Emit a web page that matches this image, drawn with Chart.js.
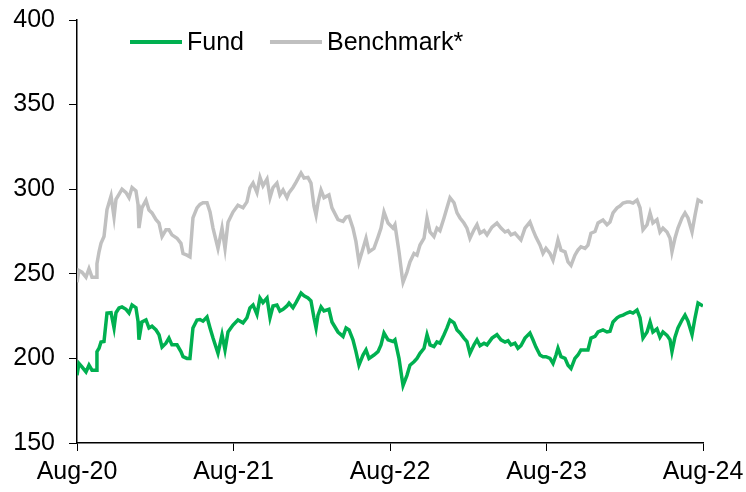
<!DOCTYPE html>
<html>
<head>
<meta charset="utf-8">
<script src="https://cdn.jsdelivr.net/npm/chart.js@4"></script>
<style>
  body { margin: 0; background: #fff; }
</style>
</head>
<body>
<canvas id="perfChart" width="746" height="492"></canvas>
<script>
// months since Aug-20 for each reading
const months = [
  0, 0.15, 0.38, 0.69, 0.92, 1.15, 1.46, 1.53, 1.69, 1.84, 2.07, 2.30, 2.61, 2.84, 2.99, 3.22, 3.45, 3.76, 3.99, 4.22,
  4.52, 4.68, 4.75, 4.98, 5.29, 5.52, 5.75, 6.06, 6.29, 6.52, 6.82, 7.05, 7.28, 7.67, 7.97,
  8.13, 8.43, 8.66, 8.89, 9.20, 9.43, 9.66, 9.97, 10.20, 10.43, 10.81, 11.12, 11.35, 11.58, 11.96, 12.34, 12.73, 13.03, 13.26, 13.50,
  13.80, 14.03, 14.26, 14.57, 14.80, 15.03, 15.33, 15.56, 15.80, 16.10,
  16.26, 16.56, 16.79, 17.18, 17.41, 17.71, 17.94, 18.17, 18.33, 18.48, 18.71, 18.94, 19.32, 19.55, 20.01, 20.40, 20.63, 20.86, 21.16, 21.39,
  21.62, 21.93, 22.16, 22.39, 22.77, 23.08, 23.31, 23.54, 23.85, 24.23,
  24.38, 24.69, 24.92, 25.00, 25.30, 25.53, 25.84, 26.07, 26.30, 26.61, 26.84, 27.07, 27.37, 27.60, 27.83, 28.14, 28.37, 28.60, 28.91, 29.14,
  29.37, 29.67, 29.90, 30.13, 30.44, 30.67, 30.90, 31.21, 31.44, 31.82, 32.20,
  32.51, 32.82, 33.05, 33.28, 33.58, 33.81, 34.04, 34.35, 34.73, 34.96, 35.19, 35.50, 35.73, 35.96, 36.27, 36.50, 36.73, 36.88, 37.11, 37.42,
  37.65, 37.88, 38.18, 38.41, 38.64, 38.95, 39.18, 39.41, 39.72, 39.95, 40.33,
  40.64, 40.87, 41.10, 41.41, 41.63, 41.87, 42.17, 42.40, 42.63, 42.94, 43.17, 43.40, 43.71, 43.94, 44.16, 44.47, 44.70, 44.93, 45.24, 45.47,
  45.62, 45.85, 46.08, 46.39, 46.62, 46.85, 47.16, 47.39, 47.62, 48
];

const fund = [
  190, 197, 195, 192, 196, 193, 193, 204, 206, 209.7, 210, 226.8, 227, 218, 227, 229.8, 230.4, 229, 226.8, 231.6,
  230, 222, 211, 221.5, 222.7, 218, 219, 216.8, 214, 206.7, 209, 212, 208, 208, 204,
  201, 200, 200, 218, 222.7, 223, 222, 224.5, 218, 212, 203, 214, 205, 215.6, 219.7, 222.7, 221, 224, 229.8, 231.6,
  226, 235.7, 233, 235.7, 224, 231, 231.6, 228, 229, 231,
  232.7, 230, 233, 238.6, 237, 235.7, 234, 224, 218, 225.6, 230.4, 228, 229, 221.5, 215.6, 213, 218, 216.8, 211, 204,
  196, 202, 205, 200, 202, 204, 208, 215, 211, 210,
  211, 200, 188, 184, 190, 196, 198, 200, 203, 206, 214, 208, 207, 209.7, 209, 214, 218, 222.7, 221, 216.8,
  215, 212, 210, 203, 208, 211, 207.5, 209, 208, 212, 214,
  211, 209.7, 210.5, 208, 209, 206, 207.5, 212, 215, 211, 206.7, 202, 201, 201, 200, 197, 202, 206, 201, 200,
  196, 194, 200, 202, 205, 205, 205, 212, 213, 215.6, 216.8,
  215.6, 216, 221.5, 224, 225, 225.6, 226.8, 227.5, 226.8, 228.6, 224, 212, 215.6, 221.5, 215.6, 217.5, 212.6, 215.6, 213.6, 211,
  204, 212.6, 218, 222.7, 225.6, 222, 214, 224, 232.7, 231
];

const benchmark = [
  245, 252, 251, 248, 253, 248, 248, 256, 263, 268, 272, 288, 296, 283.5, 294, 297, 300, 298, 295, 301,
  299, 291, 277, 289, 293.5, 287.7, 286, 282, 280, 272, 276, 276, 273, 271, 268,
  262, 261, 260, 283, 289, 291, 292, 292, 286.5, 277, 265, 277, 265, 280.5, 286.5, 290.5, 289, 292.5, 300.7, 303.6,
  298, 307, 302, 306, 295, 301, 303.6, 296.6, 299.5, 295,
  298, 301, 304, 309.6, 306.6, 307, 303.6, 290, 284.7, 292, 299.5, 295, 296.6, 289, 282, 281, 283.5, 284, 277, 269,
  257, 265, 271, 263, 265, 271.7, 277, 286.5, 280, 277,
  279, 263, 249, 245, 251, 257, 262, 261, 267, 271, 283, 274.7, 272, 277, 275.5, 283, 289, 295, 292, 286,
  283, 280, 277, 271, 276, 279, 274, 275.5, 273, 277.6, 280,
  277, 274.7, 275.5, 273, 274, 272, 270, 277, 280.6, 276, 271.7, 267, 262, 265, 262, 258, 265, 270, 264, 263,
  257, 255, 261, 264, 266, 265, 267, 274, 275, 280, 281.8,
  279, 280.6, 286, 289, 290, 291.8, 292.4, 292.4, 291.8, 293.6, 289, 276, 279, 286, 280, 282, 274.7, 277, 274.7, 271,
  263, 271, 277, 283, 286, 283, 274.7, 284.7, 293.6, 292
];

const xLabels = ['Aug-20', 'Aug-21', 'Aug-22', 'Aug-23', 'Aug-24'];
const seriesNames = ['Fund', 'Benchmark*'];

const FONT = '"Liberation Sans", Arial, sans-serif';

// legend drawn inside the plot, top left
const insideLegend = {
  id: 'insideLegend',
  afterDraw(chart) {
    const ctx = chart.ctx;
    const area = chart.chartArea;
    let x = area.left + 53;
    const y = area.top + 22;
    ctx.save();
    ctx.font = '25px ' + FONT;
    ctx.textBaseline = 'middle';
    ctx.textAlign = 'left';
    chart.data.datasets.forEach(ds => {
      ctx.strokeStyle = ds.borderColor;
      ctx.lineWidth = 4;
      ctx.beginPath();
      ctx.moveTo(x, y);
      ctx.lineTo(x + 52, y);
      ctx.stroke();
      x += 57;
      ctx.fillStyle = '#000';
      ctx.fillText(ds.label, x, y + 1);
      x += ctx.measureText(ds.label).width + 26;
    });
    ctx.restore();
  }
};

// fixed axis sizes, no automatic label overflow padding
function fixBox(size) {
  return s => {
    if (s.isHorizontal()) s.height = size; else s.width = size;
    s.paddingTop = 0;
    s.paddingBottom = 0;
    s.paddingLeft = 0;
    s.paddingRight = 0;
  };
}

new Chart(document.getElementById('perfChart'), {
  type: 'line',
  data: {
    datasets: [{
      label: seriesNames[0],
      data: months.map((m, i) => ({ x: m, y: fund[i] })),
      borderColor: '#00B050',
      borderWidth: 3.5,
      pointRadius: 0,
      tension: 0
    }, {
      label: seriesNames[1],
      data: months.map((m, i) => ({ x: m, y: benchmark[i] })),
      borderColor: '#C0C0C0',
      borderWidth: 3.5,
      pointRadius: 0,
      tension: 0
    }]
  },
  options: {
    responsive: false,
    animation: false,
    layout: { padding: { top: 20, right: 43, left: 0, bottom: 0 } },
    plugins: {
      legend: { display: false },
      tooltip: { enabled: false }
    },
    scales: {
      x: {
        type: 'linear',
        min: 0,
        max: 48,
        afterFit: fixBox(49),
        ticks: {
          stepSize: 12,
          color: '#000',
          padding: 6,
          maxRotation: 0,
          font: { family: FONT, size: 25 },
          callback: v => xLabels[v / 12]
        },
        grid: { drawOnChartArea: false, color: '#000', tickLength: 8 },
        border: { color: '#000', width: 1.5 }
      },
      y: {
        min: 150,
        max: 400,
        afterFit: fixBox(77),
        ticks: {
          stepSize: 50,
          color: '#000',
          padding: 14,
          font: { family: FONT, size: 25 }
        },
        grid: { drawOnChartArea: false, color: '#000', tickLength: 8 },
        border: { color: '#000', width: 1.5 }
      }
    }
  },
  plugins: [insideLegend]
});
</script>
</body>
</html>
